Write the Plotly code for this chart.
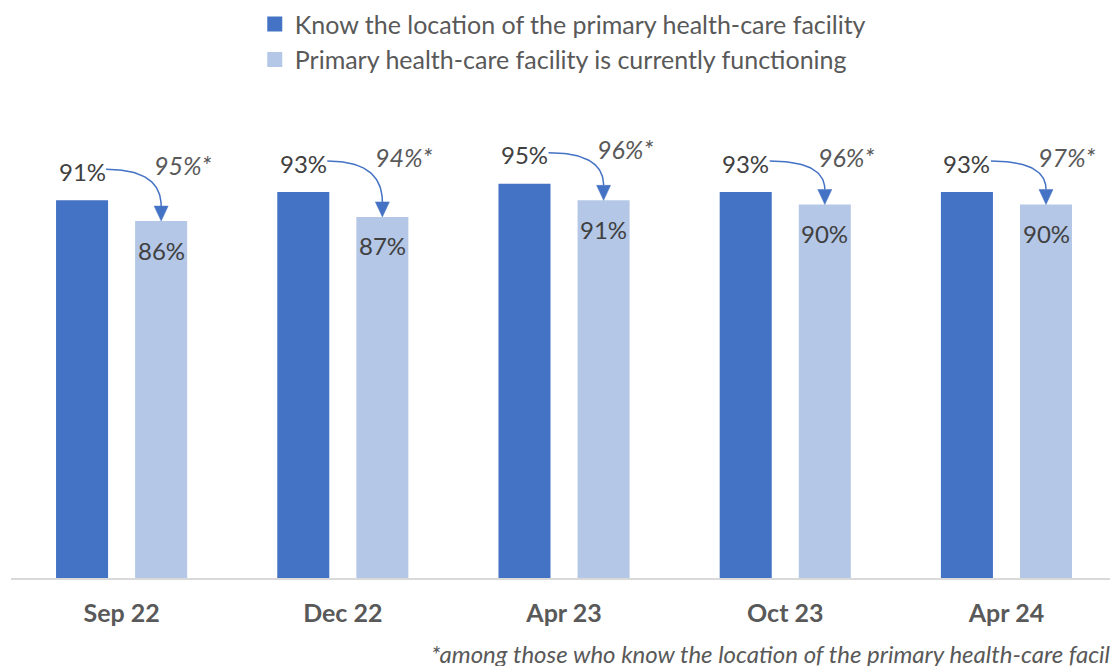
import numpy as np
import plotly.graph_objects as go

categories = ["Sep 22", "Dec 22", "Apr 23", "Oct 23", "Apr 24"]
know_location = [91, 93, 95, 93, 93]
functioning = [86, 87, 91, 90, 90]
functioning_among_knowers = [95, 94, 96, 96, 97]

series_names = ["Know the location of the primary health-care facility",
                "Primary health-care facility is currently functioning"]
footnote = "*among those who know the location of the primary health-care facility"

DARK = "#4472C4"
LIGHT = "#B4C7E7"
FONT = "Lato"

W, H = 1110, 666
ML, MR, MT, MB = 11, 0, 80, 88
XR = [-0.5, 4.468]
YR = [0, 120]
PXX = (W - ML - MR) / (XR[1] - XR[0])
PXY = (H - MT - MB) / (YR[1] - YR[0])

x = list(range(len(categories)))
BARGAP = 0.285
OFF = (1 - BARGAP) / 4  # centre offset of each bar in a group

fig = go.Figure()
fig.add_trace(go.Bar(x=x, y=know_location, name=series_names[0], marker_color=DARK,
                     marker_line_width=0, showlegend=False))
fig.add_trace(go.Bar(x=x, y=functioning, name=series_names[1], marker_color=LIGHT,
                     marker_line_width=0, showlegend=False))
# legend entries with larger square swatches
for name, col, grp in [(series_names[0], DARK, "a"), (series_names[1], LIGHT, "b")]:
    fig.add_trace(go.Scatter(x=[None], y=[None], mode="markers", name=name, legendgroup=grp,
                             marker=dict(symbol="square", size=15, color=col)))

annotations = []
for i in x:
    xd = i - OFF
    xl = i + OFF
    annotations.append(dict(x=xd, y=know_location[i], xref="x", yref="y", text=f"{know_location[i]}%",
                            showarrow=False, yshift=29, yanchor="middle",
                            font=dict(family=FONT, size=24, color="#404040")))
    annotations.append(dict(x=xl, y=functioning[i], xref="x", yref="y", text=f"{functioning[i]}%",
                            showarrow=False, yshift=-29, yanchor="middle",
                            font=dict(family=FONT, size=24, color="#404040")))
    annotations.append(dict(x=i, y=know_location[i], xref="x", yref="y",
                            text=f"<i>{functioning_among_knowers[i]}%*</i>",
                            showarrow=False, xshift=61, yshift=35, yanchor="middle",
                            font=dict(family=FONT, size=25, color="#595959")))
    # curved connector
    sx, sy = xd + 24 / PXX, know_location[i] + 31 / PXY
    ex, ey = xl, functioning[i] + 15 / PXY
    cx, cy = ex, sy
    t = np.linspace(0, 1, 40)
    bx = (1 - t) ** 2 * sx + 2 * (1 - t) * t * cx + t ** 2 * ex
    by = (1 - t) ** 2 * sy + 2 * (1 - t) * t * cy + t ** 2 * ey
    fig.add_trace(go.Scatter(x=bx, y=by, mode="lines", line=dict(color=DARK, width=1.5),
                             showlegend=False, hoverinfo="skip"))
    hx = [xl - 7 / PXX, xl + 7 / PXX, xl, xl - 7 / PXX]
    hy = [ey, ey, functioning[i], ey]
    fig.add_trace(go.Scatter(x=hx, y=hy, mode="lines", fill="toself", fillcolor=DARK,
                             line=dict(color=DARK, width=0.5), showlegend=False, hoverinfo="skip"))

annotations.append(dict(x=(429 - ML) / (W - ML - MR), y=(578 - 653) / (H - MT - MB), xref="paper", yref="paper",
                        text=f"<i>{footnote}</i>", showarrow=False, xanchor="left", yanchor="middle",
                        font=dict(family=FONT, size=24, color="#595959")))

fig.update_layout(
    width=W, height=H,
    margin=dict(l=ML, r=MR, t=MT, b=MB),
    paper_bgcolor="white", plot_bgcolor="white",
    barmode="group", bargap=BARGAP, bargroupgap=0.342,
    font=dict(family=FONT, color="#595959"),
    legend=dict(orientation="v", x=0.2218, xanchor="left", y=1.158, yanchor="top",
                font=dict(family=FONT, size=25, color="#595959"), tracegroupgap=0,
                itemwidth=30, bgcolor="rgba(0,0,0,0)"),
    annotations=annotations,
    xaxis=dict(range=XR, tickvals=x, ticktext=categories, showgrid=False, zeroline=False,
               showline=True, linecolor="#D9D9D9", linewidth=2, ticks="",
               tickfont=dict(family=FONT, size=25, color="#595959", weight="bold"), ticklabelstandoff=12),
    yaxis=dict(range=YR, visible=False, showgrid=False, zeroline=False),
)

fig.write_html("out.html", config={"displayModeBar": False},
               post_script="document.body.style.margin='0';")
